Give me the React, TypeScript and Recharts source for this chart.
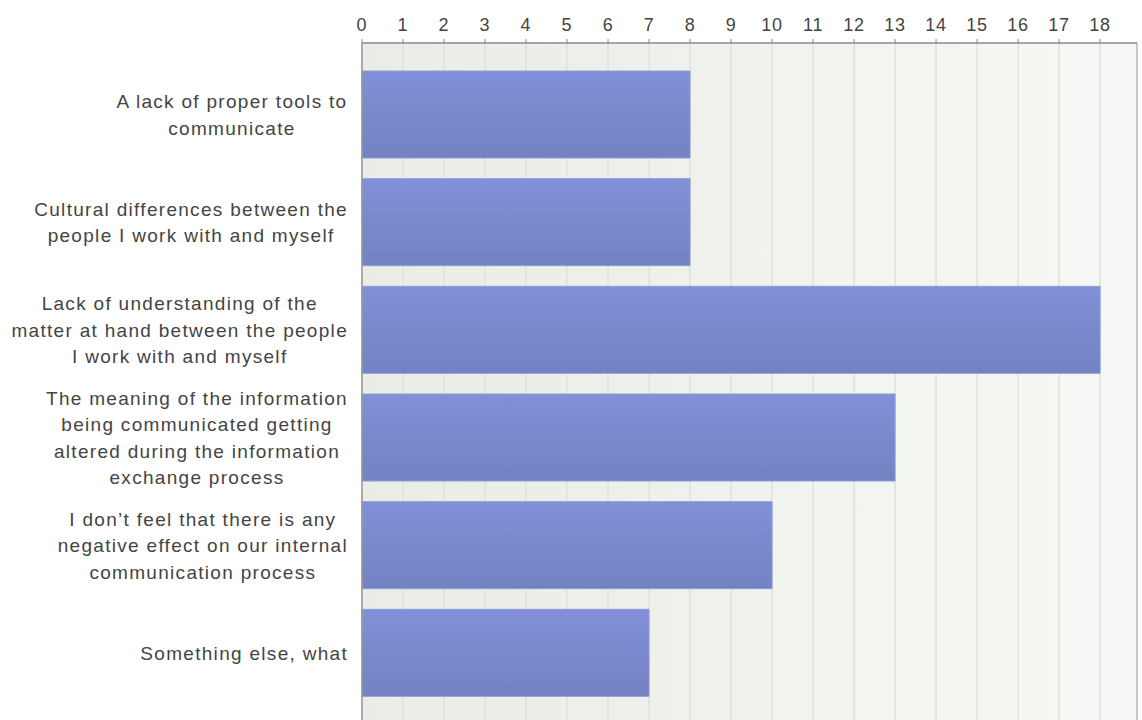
import { Bar, BarChart, CartesianGrid, ReferenceLine, XAxis, YAxis } from 'recharts'

const categories = [
  'A lack of proper tools to\ncommunicate',
  'Cultural differences between the\npeople I work with and myself',
  'Lack of understanding of the\nmatter at hand between the people\nI work with and myself',
  'The meaning of the information\nbeing communicated getting\naltered during the information\nexchange process',
  'I don\u2019t feel that there is any\nnegative effect on our internal\ncommunication process',
  'Something else, what',
]
const counts = [8, 8, 18, 13, 10, 7]
const xTicks = [0, 1, 2, 3, 4, 5, 6, 7, 8, 9, 10, 11, 12, 13, 14, 15, 16, 17, 18]

const data = categories.map((label, i) => ({ label, count: counts[i] }))

const FAMILY = "'Liberation Sans', Arial, sans-serif"
const LABEL_SIZE = 19
const LABEL_SPACING = 1.3
let ctx: CanvasRenderingContext2D | null = null
function textWidth(s: string) {
  if (!ctx) ctx = document.createElement('canvas').getContext('2d')
  if (!ctx) return s.length * 10
  ctx.font = `${LABEL_SIZE}px ${FAMILY}`
  return ctx.measureText(s).width + s.length * LABEL_SPACING
}

function CategoryTick({ x, y, payload }: any) {
  const lines = String(payload.value).split('\n')
  const blockW = Math.max(...lines.map(textWidth))
  const right = x - 14 + 8
  const cx = right - blockW / 2
  const lh = 26.5
  const top = y - ((lines.length - 1) * lh) / 2
  return (
    <text
      textAnchor="middle"
      fill="#444"
      fontFamily={FAMILY}
      fontSize={LABEL_SIZE}
      letterSpacing={LABEL_SPACING}
    >
      {lines.map((l, i) => (
        <tspan key={i} x={cx} y={top + i * lh} dy="0.35em">
          {l}
        </tspan>
      ))}
    </text>
  )
}

export default function App() {
  return (
    <div style={{ position: 'absolute', left: 0, top: 0, background: '#fff' }}>
      <BarChart
        width={1142}
        height={720}
        data={data}
        layout="vertical"
        margin={{ top: 0, right: 5, left: 0, bottom: 0 }}
      >
        <defs>
          <linearGradient id="plotBg" x1="0" y1="0" x2="1" y2="0">
            <stop offset="0%" stopColor="#e9ede5" />
            <stop offset="100%" stopColor="#f7f8f5" />
          </linearGradient>
          <linearGradient id="barFill" x1="0" y1="0" x2="0" y2="1">
            <stop offset="0%" stopColor="#8190d8" />
            <stop offset="100%" stopColor="#7282c2" />
          </linearGradient>
        </defs>
        <CartesianGrid
          horizontal={false}
          stroke="#dfe1dc"
          strokeWidth={1.5}
          fill="url(#plotBg)"
          fillOpacity={1}
        />
        <XAxis
          type="number"
          orientation="top"
          domain={[0, 18.9]}
          ticks={xTicks}
          interval={0}
          height={43}
          tickSize={4}
          tickMargin={8}
          stroke="#888"
          axisLine={{ stroke: '#888', strokeWidth: 1.5 }}
          tickLine={{ stroke: '#888' }}
          tick={{ fill: '#444', fontSize: 18, fontFamily: FAMILY, letterSpacing: 0.8 }}
        />
        <YAxis
          type="category"
          dataKey="label"
          width={362}
          padding={{ top: 18, bottom: 13 }}
          axisLine={{ stroke: '#999', strokeWidth: 1.5 }}
          tickLine={false}
          tick={<CategoryTick />}
          interval={0}
        />
        <ReferenceLine x={18.9} stroke="#c8c8c8" strokeWidth={2} />
        <Bar
          dataKey="count"
          barSize={87}
          fill="url(#barFill)"
          stroke="#8e9bd8"
          strokeWidth={1}
          isAnimationActive={false}
        />
      </BarChart>
    </div>
  )
}
